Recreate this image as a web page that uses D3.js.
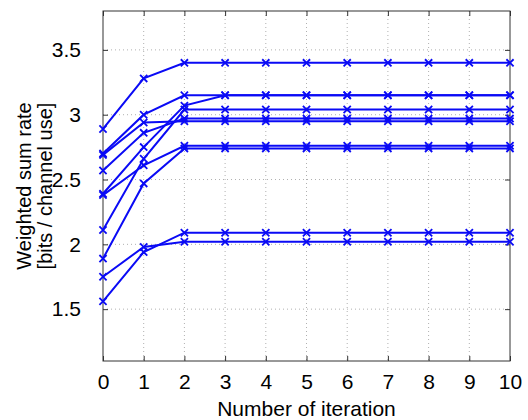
<!DOCTYPE html>
<html>
<head>
<meta charset="utf-8">
<script src="https://cdn.jsdelivr.net/npm/d3@7"></script>
<style>
  body { margin: 0; background: #fff; }
  svg text { font-family: "Liberation Sans", Arial, sans-serif; fill: #000; }
</style>
</head>
<body>
<div id="figure"><svg></svg></div>
<script>
// data
var iterations = [0, 1, 2, 3, 4, 5, 6, 7, 8, 9, 10];
var yTicks = [1.5, 2, 2.5, 3, 3.5];
var runA = [2.89, 3.28, 3.40, 3.40, 3.40, 3.40, 3.40, 3.40, 3.40, 3.40, 3.40];
var runB = [2.70, 3.00, 3.15, 3.15, 3.15, 3.15, 3.15, 3.15, 3.15, 3.15, 3.15];
var runC = [2.69, 2.94, 2.95, 2.95, 2.95, 2.95, 2.95, 2.95, 2.95, 2.95, 2.95];
var runD = [2.57, 2.86, 2.97, 2.97, 2.97, 2.97, 2.97, 2.97, 2.97, 2.97, 2.97];
var runE = [2.39, 2.75, 3.07, 3.15, 3.15, 3.15, 3.15, 3.15, 3.15, 3.15, 3.15];
var runF = [2.38, 2.61, 2.76, 2.76, 2.76, 2.76, 2.76, 2.76, 2.76, 2.76, 2.76];
var runG = [2.11, 2.66, 3.04, 3.04, 3.04, 3.04, 3.04, 3.04, 3.04, 3.04, 3.04];
var runH = [1.89, 2.47, 2.74, 2.74, 2.74, 2.74, 2.74, 2.74, 2.74, 2.74, 2.74];
var runI = [1.75, 1.98, 2.02, 2.02, 2.02, 2.02, 2.02, 2.02, 2.02, 2.02, 2.02];
var runJ = [1.56, 1.94, 2.09, 2.09, 2.09, 2.09, 2.09, 2.09, 2.09, 2.09, 2.09];
var runs = [runA, runB, runC, runD, runE, runF, runG, runH, runI, runJ];

var lineColor = "#0a0af5";
var width = 528, height = 420;
var plotLeft = 103, plotRight = 510, plotTop = 11, plotBottom = 361;

var g = d3.select("#figure").select("svg")
  .attr("width", width).attr("height", height);

var x = d3.scaleLinear().domain([0, 10]).range([plotLeft, plotRight]);
var y = d3.scaleLinear().domain([1.1, 3.8]).range([plotBottom, plotTop]);

// dotted grid
g.append("g").selectAll("line").data(iterations.slice(1, -1)).enter().append("line")
  .attr("x1", function (d) { return x(d); }).attr("x2", function (d) { return x(d); })
  .attr("y1", plotTop).attr("y2", plotBottom)
  .attr("stroke", "#b0b0b0").attr("stroke-width", 1).attr("stroke-dasharray", "1,3");
g.append("g").selectAll("line").data(yTicks).enter().append("line")
  .attr("y1", function (d) { return y(d); }).attr("y2", function (d) { return y(d); })
  .attr("x1", plotLeft).attr("x2", plotRight)
  .attr("stroke", "#b0b0b0").attr("stroke-width", 1).attr("stroke-dasharray", "1,3");

// axes, ticks pointing inward on all four sides
var axisStyle = function (sel) {
  sel.select(".domain").remove();
  sel.selectAll(".tick line").attr("stroke", "#333");
  sel.selectAll(".tick text").style("font-size", "21px");
};
g.append("g").attr("transform", "translate(0," + plotBottom + ")")
  .call(d3.axisBottom(x).tickValues(iterations).tickSize(-5).tickPadding(13).tickFormat(d3.format("d")))
  .call(axisStyle);
g.append("g").attr("transform", "translate(0," + plotTop + ")")
  .call(d3.axisTop(x).tickValues(iterations).tickSize(-5).tickFormat(""))
  .call(axisStyle);
g.append("g").attr("transform", "translate(" + plotLeft + ",0)")
  .call(d3.axisLeft(y).tickValues(yTicks).tickSize(-5).tickPadding(22).tickFormat(d3.format("")))
  .call(axisStyle);
g.append("g").attr("transform", "translate(" + plotRight + ",0)")
  .call(d3.axisRight(y).tickValues(yTicks).tickSize(-5).tickFormat(""))
  .call(axisStyle);

g.append("rect").attr("x", plotLeft).attr("y", plotTop)
  .attr("width", plotRight - plotLeft).attr("height", plotBottom - plotTop)
  .attr("fill", "none").attr("stroke", "#333").attr("stroke-width", 1);

// lines with x markers
var line = d3.line()
  .x(function (d, i) { return x(iterations[i]); })
  .y(function (d) { return y(d); });
var plot = g.append("g");
runs.forEach(function (run) {
  plot.append("path").datum(run).attr("d", line)
    .attr("fill", "none").attr("stroke", lineColor).attr("stroke-width", 2);
  var m = 3.6;
  plot.append("g").selectAll("path").data(run).enter().append("path")
    .attr("d", function (d, i) {
      var cx = x(iterations[i]), cy = y(d);
      return "M" + (cx - m) + "," + (cy - m) + "L" + (cx + m) + "," + (cy + m) +
             "M" + (cx - m) + "," + (cy + m) + "L" + (cx + m) + "," + (cy - m);
    })
    .attr("stroke", lineColor).attr("stroke-width", 1.8).attr("fill", "none");
});

// axis titles
g.append("text").attr("x", (plotLeft + plotRight) / 2).attr("y", 416)
  .attr("text-anchor", "middle").style("font-size", "21px").text("Number of iteration");
var yl = g.append("text").attr("text-anchor", "middle").style("font-size", "20px")
  .attr("transform", "translate(31," + (plotTop + plotBottom) / 2 + ") rotate(-90)");
yl.append("tspan").attr("x", 0).attr("y", 0).text("Weighted sum rate");
yl.append("tspan").attr("x", 0).attr("y", 21).text("[bits / channel use]");
</script>
</body>
</html>
